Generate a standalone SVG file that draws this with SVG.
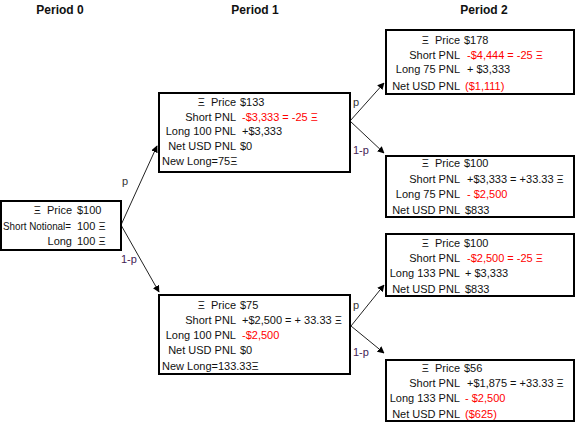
<svg xmlns="http://www.w3.org/2000/svg" width="576" height="423" viewBox="0 0 576 423">
<style>
text{font-family:"Liberation Sans",Arial,sans-serif;font-size:11px;fill:#111;white-space:pre}
.h{font-weight:bold;font-size:12px;text-anchor:middle}
.l{text-anchor:end}
.r{fill:#ff0000}
.pl{fill:#333}
.ql{fill:#442255}
.box{fill:#fff;stroke:#000;stroke-width:2}
.con{stroke:#222;stroke-width:1;fill:none;marker-end:url(#ah)}
</style>
<defs>
<marker id="ah" viewBox="0 0 10 10" refX="9" refY="5" markerWidth="7" markerHeight="7" markerUnits="userSpaceOnUse" orient="auto">
<path d="M0,0 L10,5 L0,10 z" fill="#000"/>
</marker>
</defs>
<rect width="576" height="423" fill="#fff"/>
<g id="headers">
<text class="h" x="60" y="14">Period 0</text>
<text class="h" x="255" y="14">Period 1</text>
<text class="h" x="484" y="14">Period 2</text>
</g>
<g id="connectors">
<line class="con" x1="121" y1="225" x2="157" y2="146"/>
<line class="con" x1="121" y1="225" x2="159" y2="292"/>
<line class="con" x1="350" y1="121" x2="384" y2="83"/>
<line class="con" x1="350" y1="121" x2="384" y2="153"/>
<line class="con" x1="351" y1="326" x2="384" y2="285"/>
<line class="con" x1="351" y1="326" x2="384" y2="353"/>
<text class="pl" x="122" y="185">p</text>
<text class="ql" x="121" y="263">1-p</text>
<text class="pl" x="353" y="106">p</text>
<text class="ql" x="353" y="154">1-p</text>
<text class="pl" x="353" y="309">p</text>
<text class="ql" x="353" y="356">1-p</text>
</g>
<g id="p0">
<rect class="box" x="1" y="201" width="120" height="49"/>
<text class="l" x="72" y="214">Ξ  Price</text><text x="77" y="214">$100</text>
<text x="3" y="230" textLength="68" lengthAdjust="spacingAndGlyphs">Short Notional=</text><text x="77" y="230">100 Ξ</text>
<text class="l" x="72" y="245">Long</text><text x="77" y="245">100 Ξ</text>
</g>
<g id="p1up">
<rect class="box" x="159" y="93" width="191" height="79"/>
<text class="l" x="236" y="106">Ξ  Price</text><text x="240" y="106">$133</text>
<text class="l" x="236" y="121">Short PNL</text><text class="r" x="242" y="121">-$3,333 = -25 Ξ</text>
<text class="l" x="236" y="135">Long 100 PNL</text><text x="242" y="135">+$3,333</text>
<text class="l" x="236" y="150">Net USD PNL</text><text x="240" y="150">$0</text>
<text x="162" y="165">New Long=75Ξ</text>
</g>
<g id="p1down">
<rect class="box" x="159" y="295" width="191" height="79"/>
<text class="l" x="236" y="309">Ξ  Price</text><text x="240" y="309">$75</text>
<text class="l" x="236" y="324">Short PNL</text><text x="242" y="324">+$2,500 = + 33.33 Ξ</text>
<text class="l" x="236" y="339">Long 100 PNL</text><text class="r" x="242" y="339">-$2,500</text>
<text class="l" x="236" y="354">Net USD PNL</text><text x="240" y="354">$0</text>
<text x="162" y="370">New Long=133.33Ξ</text>
</g>
<g id="p2a">
<rect class="box" x="386" y="30" width="188" height="64"/>
<text class="l" x="460" y="44">Ξ  Price</text><text x="464" y="44">$178</text>
<text class="l" x="460" y="59">Short PNL</text><text class="r" x="467" y="59">-$4,444 = -25 Ξ</text>
<text class="l" x="460" y="73">Long 75 PNL</text><text x="467" y="73">+ $3,333</text>
<text class="l" x="460" y="90">Net USD PNL</text><text class="r" x="465" y="90">($1,111)</text>
</g>
<g id="p2b">
<rect class="box" x="386" y="156" width="188" height="61"/>
<text class="l" x="460" y="167">Ξ  Price</text><text x="464" y="167">$100</text>
<text class="l" x="460" y="183">Short PNL</text><text x="467" y="183">+$3,333 = +33.33 Ξ</text>
<text class="l" x="460" y="198">Long 75 PNL</text><text class="r" x="467" y="198">- $2,500</text>
<text class="l" x="460" y="214">Net USD PNL</text><text x="465" y="214">$833</text>
</g>
<g id="p2c">
<rect class="box" x="386" y="234" width="188" height="62"/>
<text class="l" x="460" y="247">Ξ  Price</text><text x="464" y="247">$100</text>
<text class="l" x="460" y="262">Short PNL</text><text class="r" x="467" y="262">-$2,500 = -25 Ξ</text>
<text class="l" x="460" y="277">Long 133 PNL</text><text x="465" y="277">+ $3,333</text>
<text class="l" x="460" y="293">Net USD PNL</text><text x="465" y="293">$833</text>
</g>
<g id="p2d">
<rect class="box" x="386" y="360" width="188" height="61"/>
<text class="l" x="460" y="372">Ξ  Price</text><text x="464" y="372">$56</text>
<text class="l" x="460" y="387">Short PNL</text><text x="467" y="387">+$1,875 = +33.33 Ξ</text>
<text class="l" x="460" y="402">Long 133 PNL</text><text class="r" x="465" y="402">- $2,500</text>
<text class="l" x="460" y="418">Net USD PNL</text><text class="r" x="465" y="418">($625)</text>
</g>
</svg>
